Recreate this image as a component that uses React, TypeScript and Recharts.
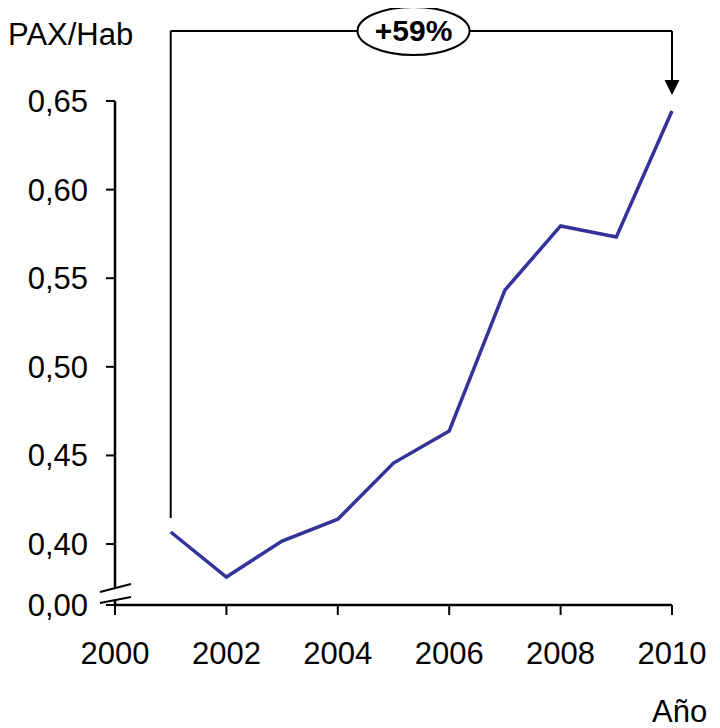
import React from "react";
import {
  LineChart,
  Line,
  XAxis,
  YAxis,
  ReferenceLine,
  ReferenceDot,
} from "recharts";

const years = [2001, 2002, 2003, 2004, 2005, 2006, 2007, 2008, 2009, 2010];
const paxPerHab = [0.4068, 0.3814, 0.4017, 0.414, 0.4457, 0.4638, 0.5433, 0.5795, 0.5733, 0.6444];
const xTicks = [2000, 2002, 2004, 2006, 2008, 2010];
const BREAK_VALUE = 0.3656; // where "0,00" sits after the axis break
const yTicks = [BREAK_VALUE, 0.4, 0.45, 0.5, 0.55, 0.6, 0.65];
const growthLabel = "+59%";
const yTitle = "PAX/Hab";
const xTitle = "Año";

const data = years.map((y, i) => ({ year: y, value: paxPerHab[i] }));

const FONT = "'Liberation Sans', Arial, Helvetica, sans-serif";
const LINE_COLOR = "#333399";
const FS = 31;

const bracketTop = 0.6895;
const bracketStart = 0.4147;
const arrowBase = 0.6619;
const arrowTip = 0.6534;

const fmtY = (v: number) => (v < 0.39 ? "0,00" : v.toFixed(2).replace(".", ","));

const YTick = (props: any) => {
  const { x, y, payload } = props;
  const isBreak = payload.value < 0.39;
  const axisX = x + 9 + 18;
  return (
    <g>
      {isBreak && (
        <g>
          <rect x={axisX - 3} y={y - 17} width={6} height={12} fill="#fff" />
          <line x1={axisX - 15} y1={y - 13} x2={axisX + 16} y2={y - 21} stroke="#000" strokeWidth={2} />
          <line x1={axisX - 15} y1={y - 2} x2={axisX + 16} y2={y - 8} stroke="#000" strokeWidth={2} />
        </g>
      )}
      <text
        x={x}
        y={y}
        dy={11}
        textAnchor="end"
        fontSize={FS}
        fontFamily={FONT}
        fill="#000"
      >
        {fmtY(payload.value)}
      </text>
    </g>
  );
};

const Bubble = (props: any) => {
  const { cx, cy } = props;
  return (
    <g>
      <ellipse cx={cx} cy={cy} rx={56} ry={24} fill="#fff" stroke="#000" strokeWidth={2} />
      <text
        x={cx}
        y={cy}
        dy={10}
        textAnchor="middle"
        fontSize={30}
        fontWeight="bold"
        fontFamily={FONT}
        fill="#000"
      >
        {growthLabel}
      </text>
    </g>
  );
};

const ArrowHead = (props: any) => {
  const { cx, cy } = props;
  return <path d={`M${cx - 7.5},${cy - 15} L${cx + 7.5},${cy - 15} L${cx},${cy} Z`} fill="#000" />;
};

export default function App() {
  return (
    <div style={{ width: 712, height: 720, position: "relative", fontFamily: FONT }}>
      <LineChart
        width={712}
        height={720}
        data={data}
        margin={{ top: 93, right: 48, bottom: 63, left: 0 }}
      >
        <XAxis
          dataKey="year"
          type="number"
          domain={[2000, 2010]}
          ticks={xTicks}
          interval={0}
          height={60}
          tickSize={10}
          tickMargin={27}
          axisLine={{ stroke: "#000", strokeWidth: 2.5 }}
          tickLine={{ stroke: "#000", strokeWidth: 2 }}
          tick={{ fontSize: FS, fill: "#000", fontFamily: FONT }}
        />
        <YAxis
          type="number"
          domain={[BREAK_VALUE, 0.65]}
          ticks={yTicks}
          interval={0}
          width={107}
          tickSize={9}
          tickMargin={18}
          allowDataOverflow
          axisLine={{ stroke: "#000", strokeWidth: 2.5 }}
          tickLine={{ stroke: "#000", strokeWidth: 2 }}
          tick={<YTick />}
        />
        <Line
          type="linear"
          dataKey="value"
          stroke={LINE_COLOR}
          strokeWidth={3.5}
          dot={false}
          activeDot={false}
          isAnimationActive={false}
        />
        <ReferenceLine
          segment={[{ x: 2001, y: bracketStart }, { x: 2001, y: bracketTop }]}
          stroke="#000"
          strokeWidth={2}
          ifOverflow="visible"
        />
        <ReferenceLine
          segment={[{ x: 2001, y: bracketTop }, { x: 2010, y: bracketTop }]}
          stroke="#000"
          strokeWidth={2}
          ifOverflow="visible"
        />
        <ReferenceLine
          segment={[{ x: 2010, y: bracketTop }, { x: 2010, y: arrowBase }]}
          stroke="#000"
          strokeWidth={2}
          ifOverflow="visible"
        />
        <ReferenceDot x={2010} y={arrowTip} r={1} ifOverflow="visible" shape={<ArrowHead />} />
        <ReferenceDot x={2005.36} y={bracketTop} r={1} ifOverflow="visible" shape={<Bubble />} />
      </LineChart>
      <div
        style={{
          position: "absolute",
          left: 0,
          top: 11,
          fontSize: FS,
          lineHeight: "31px",
          color: "#000",
          fontFamily: FONT,
          whiteSpace: "nowrap",
        }}
      >
        {yTitle}
      </div>
      <div
        style={{
          position: "absolute",
          left: 644,
          top: 688,
          fontSize: FS,
          lineHeight: "31px",
          color: "#000",
          fontFamily: FONT,
          whiteSpace: "nowrap",
        }}
      >
        {xTitle}
      </div>
    </div>
  );
}
